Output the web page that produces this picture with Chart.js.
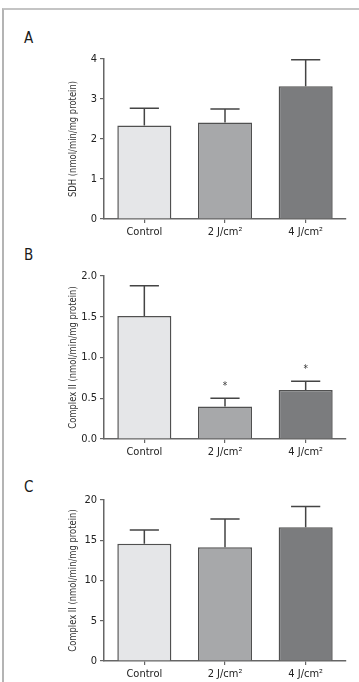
<!DOCTYPE html>
<html lang="en">

<head>
  <meta charset="UTF-8">
  <title>Complex II activity</title>
  <script src="https://cdn.jsdelivr.net/npm/chart.js@4.4.0/dist/chart.umd.min.js"></script>
  <style>
    body { margin: 0; width: 359px; height: 682px; overflow: hidden; background: #fff; position: relative; }
    .frame { position: absolute; left: 2px; top: 8px; width: 400px; height: 700px; border-left: 2px solid #b4b4b4; border-top: 2px solid #c4c4c4; }
    .panel { position: absolute; left: 0; width: 359px; }
    .tag { position: absolute; left: 24px; font: 15px "DejaVu Sans Condensed", sans-serif; color: #1a1a1a; }
  </style>
</head>

<body>
  <div class="frame"></div>
  <div class="tag" style="top:29px">A</div>
  <div class="tag" style="top:246px">B</div>
  <div class="tag" style="top:478px">C</div>
  <div class="panel" style="top:20px;height:230px"><canvas id="chartA" width="359" height="230"></canvas></div>
  <div class="panel" style="top:250px;height:215px"><canvas id="chartB" width="359" height="215"></canvas></div>
  <div class="panel" style="top:470px;height:212px"><canvas id="chartC" width="359" height="212"></canvas></div>
  <script>
    const categories = ['Control', '2 J/cm²', '4 J/cm²'];
    const barColors = ['#e5e6e8', '#a7a8aa', '#7b7c7e'];

    // A - SDH
    const sdhMean = [2.34, 2.41, 3.32];
    const sdhSd = [0.43, 0.34, 0.66];
    // B - Complex II
    const complexBMean = [1.51, 0.40, 0.60];
    const complexBSd = [0.37, 0.10, 0.11];
    const complexBStar = [false, true, true];
    // C - Complex II
    const complexCMean = [14.55, 14.14, 16.63];
    const complexCSd = [1.71, 3.49, 2.57];

    const family = '"DejaVu Sans Condensed", sans-serif';

    // upper error bars + asterisks
    const errorBars = {
      id: 'errorBars',
      afterDatasetsDraw(chart, args, opts) {
        const ctx = chart.ctx;
        const y = chart.scales.y;
        const meta = chart.getDatasetMeta(0);
        ctx.save();
        ctx.strokeStyle = '#444';
        ctx.lineWidth = 1.5;
        ctx.fillStyle = '#333';
        ctx.font = '10px ' + family;
        ctx.textAlign = 'center';
        meta.data.forEach(function (bar, i) {
          const top = y.getPixelForValue(opts.mean[i] + opts.sd[i]);
          const half = bar.width * 0.27;
          ctx.beginPath();
          ctx.moveTo(bar.x, bar.y);
          ctx.lineTo(bar.x, top);
          ctx.moveTo(bar.x - half, top);
          ctx.lineTo(bar.x + half, top);
          ctx.stroke();
          if (opts.star && opts.star[i]) {
            ctx.fillText('*', bar.x, top - 9);
          }
        });
        ctx.restore();
      }
    };

    // narrow y axis title, centred on the chart area
    const yTitle = {
      id: 'yTitle',
      afterDraw(chart, args, opts) {
        const ctx = chart.ctx;
        const area = chart.chartArea;
        ctx.save();
        ctx.translate(73, (area.top + area.bottom) / 2);
        ctx.rotate(-Math.PI / 2);
        ctx.scale(0.85, 1);
        ctx.font = '11px ' + family;
        ctx.fillStyle = '#333';
        ctx.textAlign = 'center';
        ctx.textBaseline = 'middle';
        ctx.fillText(opts.text, 0, 0);
        ctx.restore();
      }
    };

    function makeChart(id, mean, sd, star, max, step, title, padTop, padBottom, xHeight, digits) {
      return new Chart(document.getElementById(id), {
        type: 'bar',
        data: {
          labels: categories,
          datasets: [{
            data: mean,
            backgroundColor: barColors,
            borderColor: '#505050',
            borderWidth: 1.5,
            barPercentage: 0.67,
            categoryPercentage: 1
          }]
        },
        options: {
          responsive: false,
          animation: false,
          layout: { padding: { left: 67, right: 13, top: padTop, bottom: padBottom } },
          plugins: {
            legend: { display: false },
            tooltip: { enabled: false },
            errorBars: { mean: mean, sd: sd, star: star },
            yTitle: { text: title }
          },
          scales: {
            x: {
              afterFit: function (s) { s.height = xHeight; },
              grid: { offset: false, drawOnChartArea: false, tickLength: 4, color: '#666', lineWidth: 1.2 },
              border: { color: '#666', width: 1.5 },
              ticks: { color: '#222', padding: 3, font: { family: family, size: 11 } }
            },
            y: {
              min: 0,
              max: max,
              afterFit: function (s) { s.width = 37; },
              grid: { drawOnChartArea: false, tickLength: 4, color: '#666', lineWidth: 1.2 },
              border: { color: '#666', width: 1.5 },
              ticks: {
                stepSize: step,
                color: '#222',
                padding: 3,
                font: { family: family, size: 11 },
                callback: function (v) { return v.toFixed(digits); }
              }
            }
          }
        },
        plugins: [errorBars, yTitle]
      });
    }

    makeChart('chartA', sdhMean, sdhSd, null, 4, 1, 'SDH (nmol/min/mg protein)', 39, 6, 25, 0);
    makeChart('chartB', complexBMean, complexBSd, complexBStar, 2, 0.5, 'Complex II (nmol/min/mg protein)', 26, 1, 25, 1);
    makeChart('chartC', complexCMean, complexCSd, null, 20, 5, 'Complex II (nmol/min/mg protein)', 30, 0, 21, 0);
  </script>
</body>

</html>
